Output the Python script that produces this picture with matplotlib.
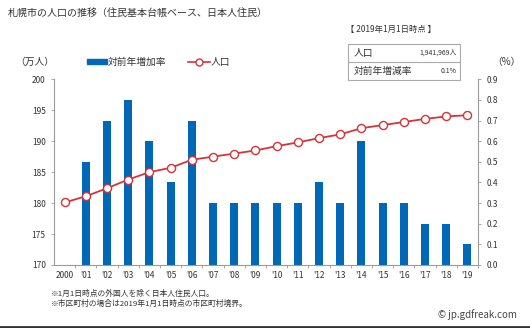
import matplotlib.pyplot as plt
import numpy as np
from matplotlib.lines import Line2D
from matplotlib.patches import Rectangle

plt.rcParams['font.family'] = ['Noto Sans CJK JP', 'DejaVu Sans']

# Data
years = ['2000', "'01", "'02", "'03", "'04", "'05", "'06", "'07", "'08", "'09",
         "'10", "'11", "'12", "'13", "'14", "'15", "'16", "'17", "'18", "'19"]
population = [180.1, 181.1, 182.4, 183.8, 185.0, 185.7, 187.0, 187.5, 188.0, 188.5,
              189.2, 189.8, 190.5, 191.1, 192.1, 192.6, 193.1, 193.6, 194.0, 194.2]
growth = [np.nan, 0.5, 0.7, 0.8, 0.6, 0.4, 0.7, 0.3, 0.3, 0.3,
          0.3, 0.3, 0.4, 0.3, 0.6, 0.3, 0.3, 0.2, 0.2, 0.1]

blue = '#0068b7'
red = '#d7333a'
grey = '#9a9a9a'
txt = '#333333'

fig = plt.figure(figsize=(5.3, 3.28), dpi=100)
W, H = 530, 328
ax = fig.add_axes([54 / W, 1 - 265 / H, (478 - 54) / W, (265 - 79.3) / H])
ax2 = ax.twinx()

x = np.arange(len(years))
ax2.bar(x, growth, width=0.38, color=blue, zorder=2)
ax.plot(x, population, color=red, lw=1.3, marker='o', ms=5.8,
        mfc='white', mec=red, mew=1.0, zorder=5)
ax.set_zorder(ax2.get_zorder() + 1)
ax.patch.set_visible(False)

ax.set_xlim(-0.5, len(years) - 0.5)
ax.set_ylim(170, 200)
ax.set_yticks(np.arange(170, 201, 5))
ax2.set_ylim(0, 0.9)
ax2.set_yticks(np.arange(0, 0.91, 0.1))
ax2.set_yticklabels(['%.1f' % v for v in np.arange(0, 0.91, 0.1)])
ax.set_xticks(x)
ax.set_xticklabels(years)
ax.set_xticks(x + 0.5, minor=True)

for a in (ax, ax2):
    for s in a.spines.values():
        s.set_visible(False)
    a.tick_params(colors=grey, labelcolor=txt, labelsize=6, width=0.6, length=2.5)
ax.spines['left'].set_visible(True)
ax.spines['bottom'].set_visible(True)
ax2.spines['right'].set_visible(True)
for s in (ax.spines['left'], ax.spines['bottom'], ax2.spines['right']):
    s.set_color(grey)
    s.set_linewidth(0.8)
ax.tick_params(axis='x', length=0, pad=4)
ax.tick_params(axis='x', which='minor', length=2.5, color=grey, width=0.6)

# Title and axis units
fig.text(8 / W, 1 - 13 / H, '札幌市の人口の推移（住民基本台帳ベース、日本人住民）',
         fontsize=7.2, color=txt, va='center')
fig.text(35 / W, 1 - 62 / H, '（万人）', fontsize=7, color=txt, va='center', ha='center')
fig.text(506 / W, 1 - 62 / H, '（%）', fontsize=7, color=txt, va='center', ha='center')

# Legend
fig.patches.append(Rectangle((87 / W, 1 - 64 / H), 20 / W, 5 / H,
                             transform=fig.transFigure, color=blue))
fig.text(108 / W, 1 - 61.5 / H, '対前年増加率', fontsize=7, color=txt, va='center')
fig.lines.append(Line2D([188 / W, 210 / W], [1 - 61.5 / H, 1 - 61.5 / H],
                        transform=fig.transFigure, color=red, lw=1.2))
fig.lines.append(Line2D([199 / W], [1 - 61.5 / H], transform=fig.transFigure,
                        marker='o', ms=5, mfc='white', mec=red, mew=1.0, color=red))
fig.text(211 / W, 1 - 61.5 / H, '人口', fontsize=7, color=txt, va='center')

# Info box
fig.text(346 / W, 1 - 29 / H, '【 2019年1月1日時点 】', fontsize=6, color=txt, va='center')
fig.patches.append(Rectangle((348 / W, 1 - 80 / H), 112 / W, 36 / H,
                             transform=fig.transFigure, fill=False,
                             ec='#aaaaaa', lw=0.8))
fig.lines.append(Line2D([348 / W, 460 / W], [1 - 62 / H, 1 - 62 / H],
                        transform=fig.transFigure, color='#aaaaaa', lw=0.8))
fig.text(354 / W, 1 - 53 / H, '人口', fontsize=7, color=txt, va='center')
fig.text(457 / W, 1 - 53 / H, '1,941,969人', fontsize=5, color=txt, va='center', ha='right')
fig.text(354 / W, 1 - 71 / H, '対前年増減率', fontsize=7, color=txt, va='center')
fig.text(457 / W, 1 - 71 / H, '0.1%', fontsize=5, color=txt, va='center', ha='right')

# Footnotes
fig.text(51 / W, 1 - 294 / H, '※1月1日時点の外国人を除く日本人住民人口。',
         fontsize=5.6, color=txt, va='center')
fig.text(51 / W, 1 - 304 / H, '※市区町村の場合は2019年1月1日時点の市区町村境界。',
         fontsize=5.6, color=txt, va='center')
fig.text(517 / W, 1 - 315 / H, '© jp.gdfreak.com', fontsize=7, color='#444444',
         va='center', ha='right')
fig.lines.append(Line2D([0, 1], [1 - 327 / H, 1 - 327 / H],
                        transform=fig.transFigure, color='#333333', lw=2))

fig.savefig('out.png', dpi=100)
